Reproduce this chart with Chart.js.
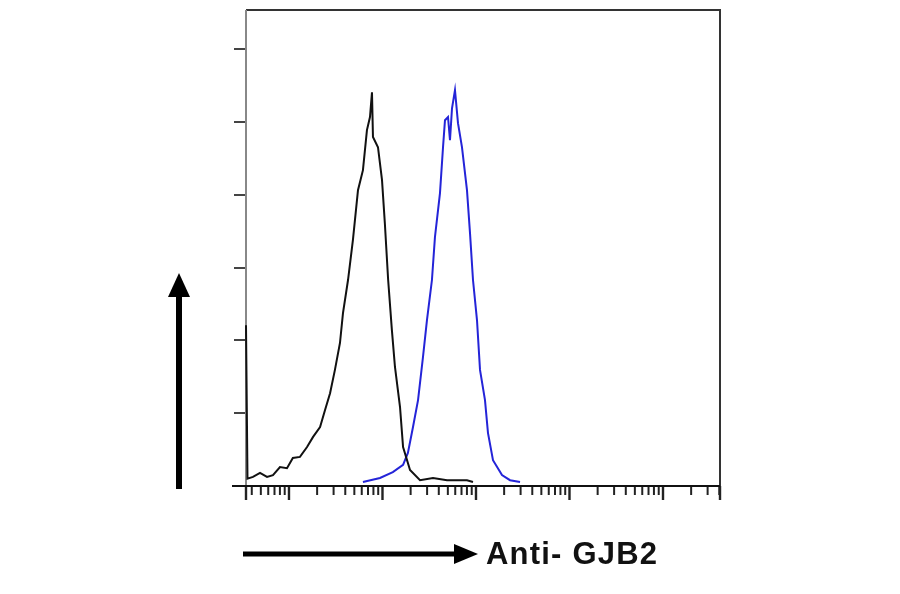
<!DOCTYPE html>
<html lang="en">
<head>
    <meta charset="UTF-8">
    <title>Anti- GJB2</title>
    <script src="https://cdn.jsdelivr.net/npm/chart.js"></script>
    <style>
        body { margin: 0; background: #fff; }
        .wrap { position: relative; width: 900px; height: 594px; }
        /* label under the x arrow */
        .xlabel {
            position: absolute;
            left: 486px;
            top: 536px;
            font: bold 31px "Liberation Sans", Arial, sans-serif;
            letter-spacing: 1.2px;
            color: #111;
            white-space: nowrap;
        }
    </style>
</head>
<body>
<div class="wrap">
    <canvas id="histo" width="900" height="594"></canvas>
    <div class="xlabel">Anti- GJB2</div>
</div>
<script>
    // fluorescence intensity (log axis) and event counts
    const isotypeX = [3.47, 3.6, 4.12, 4.9, 5.82, 6.74, 8.01, 9.52, 11.0, 13.1, 15.6, 18.1, 21.5, 24.3, 27.5, 31.0, 35.1, 37.8, 42.8, 48.3, 54.7, 61.8, 68.2, 73.5, 77.2, 79.1, 89.5, 98.8, 106, 115, 126, 136, 154, 166, 197, 252, 347, 490, 801, 929];
    const isotypeY = [44.2, 2.0, 2.5, 3.6, 2.5, 3.0, 5.2, 4.9, 7.7, 8.0, 10.7, 13.5, 16.2, 20.9, 25.5, 31.9, 39.3, 47.5, 56.6, 67.6, 81.3, 86.8, 97.8, 101.4, 108.2, 95.9, 93.1, 84.1, 72.2, 56.6, 42.9, 32.7, 21.7, 10.7, 4.4, 1.6, 2.2, 1.6, 1.6, 1.1];

    const gjb2X = [61.8, 94.0, 129, 166, 187, 212, 240, 271, 299, 338, 364, 412, 444, 466, 502, 527, 554, 596, 642, 708, 801, 863, 929, 1025, 1104, 1248, 1343, 1520, 1897, 2312, 2958];
    const gjb2Y = [1.1, 2.2, 3.8, 5.8, 9.1, 16.2, 23.6, 35.4, 45.6, 56.6, 68.4, 80.5, 93.1, 100.5, 101.4, 95.0, 103.8, 108.8, 99.7, 93.1, 81.3, 69.5, 56.6, 45.6, 31.9, 23.6, 14.6, 7.1, 3.0, 1.6, 1.1];

    // axis ranges and tick values (no tick labels in the picture)
    const xMin = 3.47, xMax = 407000;
    const yMin = 0, yMax = 130.8;
    const yTicks = [0, 20, 40, 60, 80, 100, 120];
    const xMajorTicks = [10, 100, 1000, 10000, 100000];
    const xMinorTicks = [];
    for (let d = 1; d <= 100000; d *= 10) {
        for (let m = 2; m <= 9; m++) {
            const v = m * d;
            if (v > xMin && v < xMax) xMinorTicks.push(v);
        }
    }

    const toPoints = (xs, ys) => xs.map((x, i) => ({ x: x, y: ys[i] }));

    // frame, tick marks and arrows
    const framePlugin = {
        id: 'frame',
        beforeDatasetsDraw(chart) {
            const { ctx, chartArea: a, scales } = chart;
            ctx.save();
            ctx.lineCap = 'butt';

            // y ticks
            ctx.strokeStyle = '#444';
            ctx.lineWidth = 2;
            yTicks.forEach(t => {
                const y = Math.round(scales.y.getPixelForValue(t));
                ctx.beginPath();
                ctx.moveTo(a.left - 12, y);
                ctx.lineTo(a.left, y);
                ctx.stroke();
            });

            // x ticks
            ctx.strokeStyle = '#222';
            ctx.lineWidth = 2;
            xMinorTicks.forEach(t => {
                const x = scales.x.getPixelForValue(t);
                ctx.beginPath();
                ctx.moveTo(x, a.bottom);
                ctx.lineTo(x, a.bottom + 9);
                ctx.stroke();
            });
            ctx.lineWidth = 2.4;
            xMajorTicks.concat([xMin, xMax]).forEach(t => {
                const x = scales.x.getPixelForValue(t);
                ctx.beginPath();
                ctx.moveTo(x, a.bottom);
                ctx.lineTo(x, a.bottom + 14);
                ctx.stroke();
            });

            // box
            ctx.lineWidth = 2;
            ctx.strokeStyle = '#333';
            ctx.beginPath();
            ctx.moveTo(a.left, a.top);
            ctx.lineTo(a.right, a.top);
            ctx.lineTo(a.right, a.bottom);
            ctx.stroke();
            ctx.strokeStyle = '#888';
            ctx.beginPath();
            ctx.moveTo(a.left, a.top);
            ctx.lineTo(a.left, a.bottom);
            ctx.stroke();
            ctx.strokeStyle = '#111';
            ctx.beginPath();
            ctx.moveTo(a.left - 14, a.bottom);
            ctx.lineTo(a.right, a.bottom);
            ctx.stroke();
            ctx.restore();
        },
        afterDraw(chart) {
            const ctx = chart.ctx;
            ctx.save();
            ctx.fillStyle = '#000';
            ctx.strokeStyle = '#000';
            // vertical arrow (count)
            ctx.lineWidth = 6;
            ctx.beginPath();
            ctx.moveTo(179, 489);
            ctx.lineTo(179, 292);
            ctx.stroke();
            ctx.beginPath();
            ctx.moveTo(179, 273);
            ctx.lineTo(168, 297);
            ctx.lineTo(190, 297);
            ctx.closePath();
            ctx.fill();
            // horizontal arrow (intensity)
            ctx.lineWidth = 5;
            ctx.beginPath();
            ctx.moveTo(243, 554);
            ctx.lineTo(458, 554);
            ctx.stroke();
            ctx.beginPath();
            ctx.moveTo(478, 554);
            ctx.lineTo(454, 544);
            ctx.lineTo(454, 564);
            ctx.closePath();
            ctx.fill();
            ctx.restore();
        }
    };

    new Chart(document.getElementById('histo'), {
        type: 'line',
        data: {
            datasets: [
                {
                    label: 'Isotype',
                    data: toPoints(isotypeX, isotypeY),
                    borderColor: '#111',
                    borderWidth: 2,
                    pointRadius: 0,
                    tension: 0,
                    fill: false,
                    clip: 4
                },
                {
                    label: 'Anti- GJB2',
                    data: toPoints(gjb2X, gjb2Y),
                    borderColor: '#2424d8',
                    borderWidth: 2,
                    pointRadius: 0,
                    tension: 0,
                    fill: false,
                    clip: 4
                }
            ]
        },
        options: {
            responsive: false,
            animation: false,
            layout: { padding: { left: 246, right: 180, top: 10, bottom: 108 } },
            plugins: {
                legend: { display: false },
                tooltip: { enabled: false }
            },
            scales: {
                x: { type: 'logarithmic', min: xMin, max: xMax, display: false },
                y: { type: 'linear', min: yMin, max: yMax, display: false }
            }
        },
        plugins: [framePlugin]
    });
</script>
</body>
</html>
